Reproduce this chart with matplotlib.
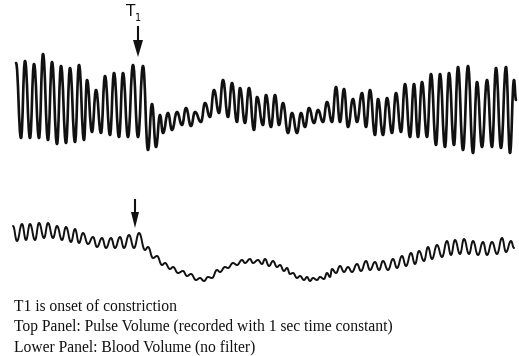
import matplotlib
matplotlib.use("Agg")
import matplotlib.pyplot as plt
from matplotlib.path import Path
from matplotlib.patches import PathPatch

top_x = [16, 21, 25, 30, 34, 39, 43, 48, 52, 57, 61, 66, 70, 75, 79, 84, 87, 92, 96, 101,
         105, 110, 114, 119, 123, 128, 133, 138, 143, 148, 152, 156, 160, 163, 168, 172, 177,
         182, 186, 191, 195, 201, 205, 210, 214, 219, 223, 228, 232, 237, 240, 245, 249, 254,
         257, 263, 266, 271, 275, 279, 283, 288, 292, 297, 301, 305, 309, 314, 318, 323, 327,
         332, 336, 340, 344, 348, 353, 357, 362, 366, 370, 375, 378, 383, 387, 392, 396, 401,
         405, 410, 414, 418, 422, 427, 431, 436, 440, 445, 449, 454, 458, 463, 468, 473, 477,
         482, 487, 492, 496, 501, 506, 510, 514, 516]
top_y = [63, 138, 61, 138, 64, 138, 54, 140, 62, 144, 66, 143, 68, 142, 65, 140, 80, 132, 90, 133,
         76, 135, 73, 137, 73, 137, 65, 137, 66, 150, 104, 147, 115, 133, 113, 130, 112,
         125, 108, 126, 112, 122, 103, 117, 90, 113, 80, 117, 83, 122, 88, 123, 88, 130,
         97, 125, 95, 127, 95, 125, 103, 133, 113, 133, 113, 127, 108, 123, 110, 122, 102,
         122, 87, 122, 89, 127, 99, 122, 93, 127, 90, 135, 99, 135, 98, 133, 93, 132,
         84, 137, 84, 137, 82, 137, 74, 145, 74, 147, 73, 145, 67, 150, 66, 153, 82,
         147, 80, 147, 68, 148, 67, 153, 80, 100]

low_x = [13, 17, 22, 26, 30, 35, 39, 44, 48, 53, 57, 62, 66, 71, 75, 79, 83, 88, 93, 97,
         102, 106, 111, 115, 120, 124, 129, 134, 139, 145, 148, 153, 157, 162, 165, 170, 173,
         178, 183, 187, 191, 196, 200, 204, 208, 212, 217, 220, 225, 228, 233, 237, 242, 245,
         250, 253, 258, 262, 265, 269, 273, 277, 280, 284, 287, 290, 293, 297, 300, 304, 307,
         310, 313, 317, 320, 324, 327, 330, 332, 336, 340, 344, 348, 352, 357, 361, 366, 370,
         375, 379, 383, 388, 393, 397, 402, 406, 411, 415, 419, 424, 428, 432, 437, 442, 447,
         451, 455, 460, 464, 469, 473, 478, 483, 487, 492, 497, 502, 506, 511, 514]
low_y = [226, 241, 224, 240, 224, 240, 223, 238, 223, 238, 226, 240, 227, 242, 229, 243, 233, 244, 237, 247,
         238, 248, 238, 248, 237, 248, 235, 248, 233, 250, 247, 258, 256, 265, 263, 269, 267,
         273, 271, 276, 274, 280, 278, 281, 277, 278, 270, 272, 267, 268, 263, 265, 260, 263,
         259, 263, 260, 264, 259, 266, 261, 267, 265, 271, 268, 274, 273, 278, 276, 280, 277,
         281, 278, 280, 277, 279, 273, 277, 269, 273, 266, 272, 267, 272, 264, 271, 261, 270,
         262, 270, 261, 270, 259, 268, 256, 266, 253, 264, 251, 261, 247, 259, 245, 257, 241,
         255, 240, 254, 239, 254, 241, 255, 242, 255, 242, 254, 238, 252, 241, 248]

t1_top_x = 138
t1_low_x = 135

caption = ["T1 is onset of constriction",
           "Top Panel: Pulse Volume (recorded with 1 sec time constant)",
           "Lower Panel: Blood Volume (no filter)"]


def wave_patch(xs, ys, lw):
    # cubic segments with flat tangents at each peak/trough, like a pen trace
    verts = [(xs[0], ys[0])]
    codes = [Path.MOVETO]
    for i in range(1, len(xs)):
        d = (xs[i] - xs[i - 1]) * 0.45
        verts += [(xs[i - 1] + d, ys[i - 1]), (xs[i] - d, ys[i]), (xs[i], ys[i])]
        codes += [Path.CURVE4] * 3
    return PathPatch(Path(verts, codes), fill=False, edgecolor="#111111", lw=lw,
                     joinstyle="round", capstyle="round")


fig = plt.figure(figsize=(5.19, 3.56), dpi=100)
ax = fig.add_axes([0, 0, 1, 1])
ax.set_xlim(0, 519)
ax.set_ylim(356, 0)
ax.axis("off")

ax.add_patch(wave_patch(top_x, top_y, 1.9))
ax.add_patch(wave_patch(low_x, low_y, 1.4))

# T1 arrows
ax.plot([t1_top_x, t1_top_x], [27, 42], color="#111111", lw=1.5)
ax.fill([t1_top_x - 5, t1_top_x + 5, t1_top_x], [40, 40, 57], color="#111111", lw=0)
ax.plot([t1_low_x, t1_low_x], [200, 214], color="#111111", lw=1.5)
ax.fill([t1_low_x - 4, t1_low_x + 4, t1_low_x], [212, 212, 228], color="#111111", lw=0)
ax.text(131, 11, "T", fontsize=11, family="DejaVu Sans", ha="center", va="center", color="#111111")
ax.text(138.5, 18, "1", fontsize=7, family="DejaVu Sans", ha="center", va="center", color="#111111")

for i, line in enumerate(caption):
    ax.text(14, 311 + i * 20, line, fontsize=11.2, family="Liberation Serif",
            ha="left", va="baseline", color="#111111")

fig.savefig("out.png", dpi=100)
